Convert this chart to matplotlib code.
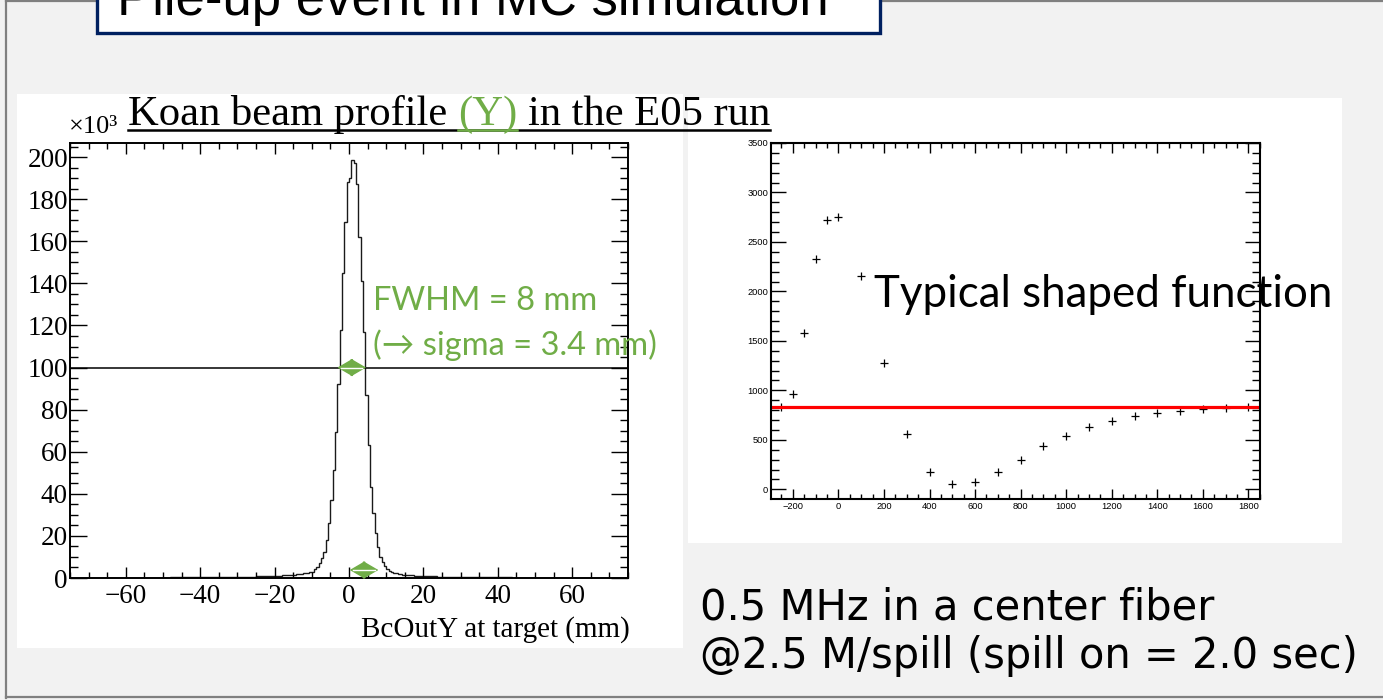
import numpy as np
import matplotlib
matplotlib.use('Agg')
import matplotlib.pyplot as plt
from matplotlib.patches import Rectangle
from matplotlib.lines import Line2D
from matplotlib.ticker import MultipleLocator

W, H = 1383, 700

# ---- left: BcOutY at target, counts in units of 10^3, 0.625 mm bins over -75..75
hist_lo, hist_hi, hist_nbins = -75.0, 75.0, 240
tail_left = [
    0.08, 0.08, 0.09, 0.09, 0.09, 0.09, 0.10, 0.10,
    0.10, 0.10, 0.11, 0.11, 0.11, 0.12, 0.12, 0.12,
    0.13, 0.13, 0.13, 0.14, 0.14, 0.14, 0.15, 0.15,
    0.15, 0.16, 0.16, 0.16, 0.17, 0.17, 0.18, 0.18,
    0.18, 0.19, 0.19, 0.20, 0.20, 0.21, 0.21, 0.22,
    0.22, 0.23, 0.23, 0.24, 0.24, 0.25, 0.26, 0.26,
    0.27, 0.27, 0.28, 0.29, 0.29, 0.30, 0.31, 0.32,
    0.32, 0.33, 0.34, 0.35, 0.36, 0.37, 0.38, 0.39,
    0.40, 0.41, 0.42, 0.44, 0.45, 0.46, 0.48, 0.50,
    0.52, 0.54, 0.56, 0.58, 0.60, 0.63, 0.66, 0.69,
    0.72, 0.75, 0.78, 0.82, 0.86, 0.90, 0.95, 1.00,
    1.05, 1.11, 1.17, 1.24, 1.31, 1.39, 1.47, 1.56,
    1.66, 1.77, 1.89, 2.02, 2.17, 2.34, 2.53, 2.75,
]
core = [
    3.0, 4.1, 5.4, 7.0, 9.3, 12.5, 18.0, 26.0,
    37.0, 51.3, 69.5, 92.0, 118.0, 145.0, 169.0, 188.0,
    190.0, 198.5, 197.0, 187.0, 162.0, 141.0, 117.0, 87.0,
    63.0, 43.4, 30.7, 21.2, 14.9, 10.1, 7.8, 5.7,
]
tail_right = [
    4.3, 3.5, 2.9, 2.5, 2.2, 1.95, 1.75, 1.6,
    1.47, 1.36, 1.27, 1.19, 1.12, 1.06, 1.00, 0.95,
    0.90, 0.86, 0.82, 0.78, 0.75, 0.72, 0.69, 0.66,
    0.63, 0.61, 0.58, 0.56, 0.54, 0.52, 0.50, 0.48,
    0.46, 0.45, 0.43, 0.42, 0.40, 0.39, 0.38, 0.37,
    0.35, 0.34, 0.33, 0.32, 0.31, 0.30, 0.29, 0.28,
    0.27, 0.27, 0.26, 0.25, 0.24, 0.24, 0.23, 0.22,
    0.22, 0.21, 0.21, 0.20, 0.20, 0.19, 0.19, 0.18,
    0.18, 0.17, 0.17, 0.16, 0.16, 0.16, 0.15, 0.15,
    0.14, 0.14, 0.14, 0.13, 0.13, 0.13, 0.12, 0.12,
    0.12, 0.11, 0.11, 0.11, 0.10, 0.10, 0.10, 0.10,
    0.09, 0.09, 0.09, 0.09, 0.08, 0.08, 0.08, 0.08,
    0.08, 0.07, 0.07, 0.07, 0.07, 0.07, 0.06, 0.06,
]
half_max = 100
fwhm_arrow = (-3.1, 4.6)
sigma_arrow = (0.2, 7.9)
sigma_arrow_y = 3.8

# ---- right: typical shaped function
graph_x = [-250, -200, -150, -100, -50, 0, 100, 200, 300, 400, 500, 600,
           700, 800, 900, 1000, 1100, 1200, 1300, 1400, 1500, 1600, 1700, 1800]
graph_y = [835, 962, 1582, 2332, 2719, 2753, 2154, 1279, 559, 178, 50, 71,
           172, 296, 437, 542, 626, 693, 740, 767, 794, 808, 824, 835]
fit_level = 835

GREEN = '#70ad47'
SERIF = 'Liberation Serif'

fig = plt.figure(figsize=(W / 100, H / 100), dpi=100)
fig.patch.set_facecolor('#f2f2f2')


def fx(x):
    return x / W


def fy(y):
    return 1 - y / H


def rect_px(l, t, r, b, zorder=-5, **kw):
    fig.add_artist(Rectangle((fx(l), fy(b)), (r - l) / W, (b - t) / H,
                             transform=fig.transFigure, zorder=zorder, **kw))


def axes_px(l, t, r, b):
    return fig.add_axes([fx(l), fy(b), (r - l) / W, (b - t) / H])


# slide frame and panels
rect_px(17, 94, 683, 648, facecolor='white', edgecolor='none')
rect_px(688, 98, 1342, 543, facecolor='white', edgecolor='none')
for xs, ys in [((6, 6), (0, 698)), ((6, 1383), (697, 697)), ((6, 1383), (1, 1))]:
    fig.add_artist(Line2D([fx(v) for v in xs], [fy(v) for v in ys], color='#808080', lw=1.6,
                          transform=fig.transFigure, zorder=-4))

# title box, cut by the top of the slide
rect_px(97, -20, 880, 33, zorder=3, facecolor='white', edgecolor='#002060', lw=2.4)
fig.text(fx(117), fy(15), 'Pile-up event in MC simulation', fontsize=38,
         family='Liberation Sans', va='baseline', zorder=4)

# ---------------- left histogram
ax = axes_px(70, 143, 628, 578)
ax.patch.set_alpha(0)
edges = np.linspace(hist_lo, hist_hi, hist_nbins + 1)
counts = np.array(tail_left + core + tail_right)
ax.stairs(counts, edges, color='#1a1a1a', lw=1.0)
ax.axhline(half_max, color='black', lw=1.1)
ax.set_xlim(hist_lo, hist_hi)
ax.set_ylim(0, 206.7)
ax.xaxis.set_major_locator(MultipleLocator(20))
ax.xaxis.set_minor_locator(MultipleLocator(5))
ax.yaxis.set_major_locator(MultipleLocator(20))
ax.yaxis.set_minor_locator(MultipleLocator(5))
ax.tick_params(which='both', direction='in', top=True, right=True, width=1.0)
ax.tick_params(axis='y', which='major', length=12, pad=1.5)
ax.tick_params(axis='y', which='minor', length=6)
ax.tick_params(axis='x', which='major', length=8, pad=4)
ax.tick_params(axis='x', which='minor', length=4.3)
for lab in ax.get_xticklabels() + ax.get_yticklabels():
    lab.set_family(SERIF)
    lab.set_fontsize(19.5)
for s in ax.spines.values():
    s.set_linewidth(1.4)
ax.set_xlabel('BcOutY at target (mm)', family=SERIF, fontsize=21)
ax.xaxis.set_label_coords(1.003, -0.088)
ax.xaxis.label.set_horizontalalignment('right')

for (x0, x1), yy in [(fwhm_arrow, half_max), (sigma_arrow, sigma_arrow_y)]:
    ax.annotate('', xy=(x0, yy), xytext=(x1, yy),
                arrowprops=dict(arrowstyle='<|-|>,head_length=0.65,head_width=0.38',
                                mutation_scale=15, color=GREEN, lw=1.0,
                                shrinkA=0, shrinkB=0))
    ax.plot([x0 + 1.0, x1 - 1.0], [yy, yy], color='white', lw=1.0, zorder=5)

fig.text(fx(373), fy(310), 'FWHM = 8 mm', color=GREEN, fontsize=23.5, family='Lato', va='baseline')
fig.text(fx(373), fy(355), '(\u2192 sigma = 3.4 mm)', color=GREEN, fontsize=23.5,
         family=['Lato', 'DejaVu Sans'], va='baseline')

fig.text(fx(69), fy(133), '\u00d710\u00b3', family=SERIF, fontsize=19, va='baseline')

# title with a green "(Y)" and an underline
renderer = fig.canvas.get_renderer()
title_kw = dict(family=SERIF, fontsize=30.7, va='baseline')
title_x, title_y = 128, 125


def text_w(s):
    t = fig.text(0, 0, s, **title_kw)
    w = t.get_window_extent(renderer).width
    t.remove()
    return w


parts = [('Koan beam profile', 'black', 'Koan beam profile'),
         ('(Y)', GREEN, 'Koan beam profile (Y)'),
         ('in the E05 run', 'black', 'Koan beam profile (Y) in the E05 run')]
full_w = text_w(parts[-1][2])
fig.add_artist(Line2D([fx(title_x), fx(title_x + full_w)], [fy(title_y + 5)] * 2,
                      color='black', lw=1.8, transform=fig.transFigure))
for s, c, upto in parts:
    x0 = title_x + text_w(upto) - text_w(s)
    fig.text(fx(x0), fy(title_y), s, color=c, **title_kw)
    if c != 'black':
        fig.add_artist(Line2D([fx(x0), fx(x0 + text_w(s))], [fy(title_y + 5)] * 2,
                              color=c, lw=1.8, transform=fig.transFigure))

# ---------------- right graph
ax2 = axes_px(771, 143, 1260, 499)
ax2.patch.set_alpha(0)
ax2.plot(graph_x, graph_y, ls='none', marker='+', color='black', ms=6, mew=0.9)
ax2.axhline(fit_level, xmin=0.004, xmax=0.995, color='#ff0000', lw=2.3)
ax2.set_xlim(-296, 1851)
ax2.set_ylim(-98, 3500)
ax2.xaxis.set_major_locator(MultipleLocator(200))
ax2.xaxis.set_minor_locator(MultipleLocator(50))
ax2.yaxis.set_major_locator(MultipleLocator(500))
ax2.yaxis.set_minor_locator(MultipleLocator(100))
ax2.tick_params(which='both', direction='in', top=True, right=True, width=1.0,
                labelsize=6.7)
ax2.tick_params(axis='y', which='major', length=11, pad=2)
ax2.tick_params(axis='y', which='minor', length=5.5)
ax2.tick_params(axis='x', which='major', length=7, pad=2.5)
ax2.tick_params(axis='x', which='minor', length=3.6)
for lab in ax2.get_xticklabels() + ax2.get_yticklabels():
    lab.set_family('Liberation Sans')
for s in ax2.spines.values():
    s.set_linewidth(1.5)

fig.text(fx(874), fy(307), 'Typical shaped function', fontsize=31.6, family='Lato',
         va='baseline', zorder=10)

fig.text(fx(700), fy(620), '0.5 MHz in a center fiber', fontsize=30,
         family='DejaVu Sans', va='baseline')
fig.text(fx(700), fy(668), '@2.5 M/spill (spill on = 2.0 sec)', fontsize=30,
         family='DejaVu Sans', va='baseline')

fig.savefig('out.png', dpi=100, facecolor=fig.get_facecolor())
